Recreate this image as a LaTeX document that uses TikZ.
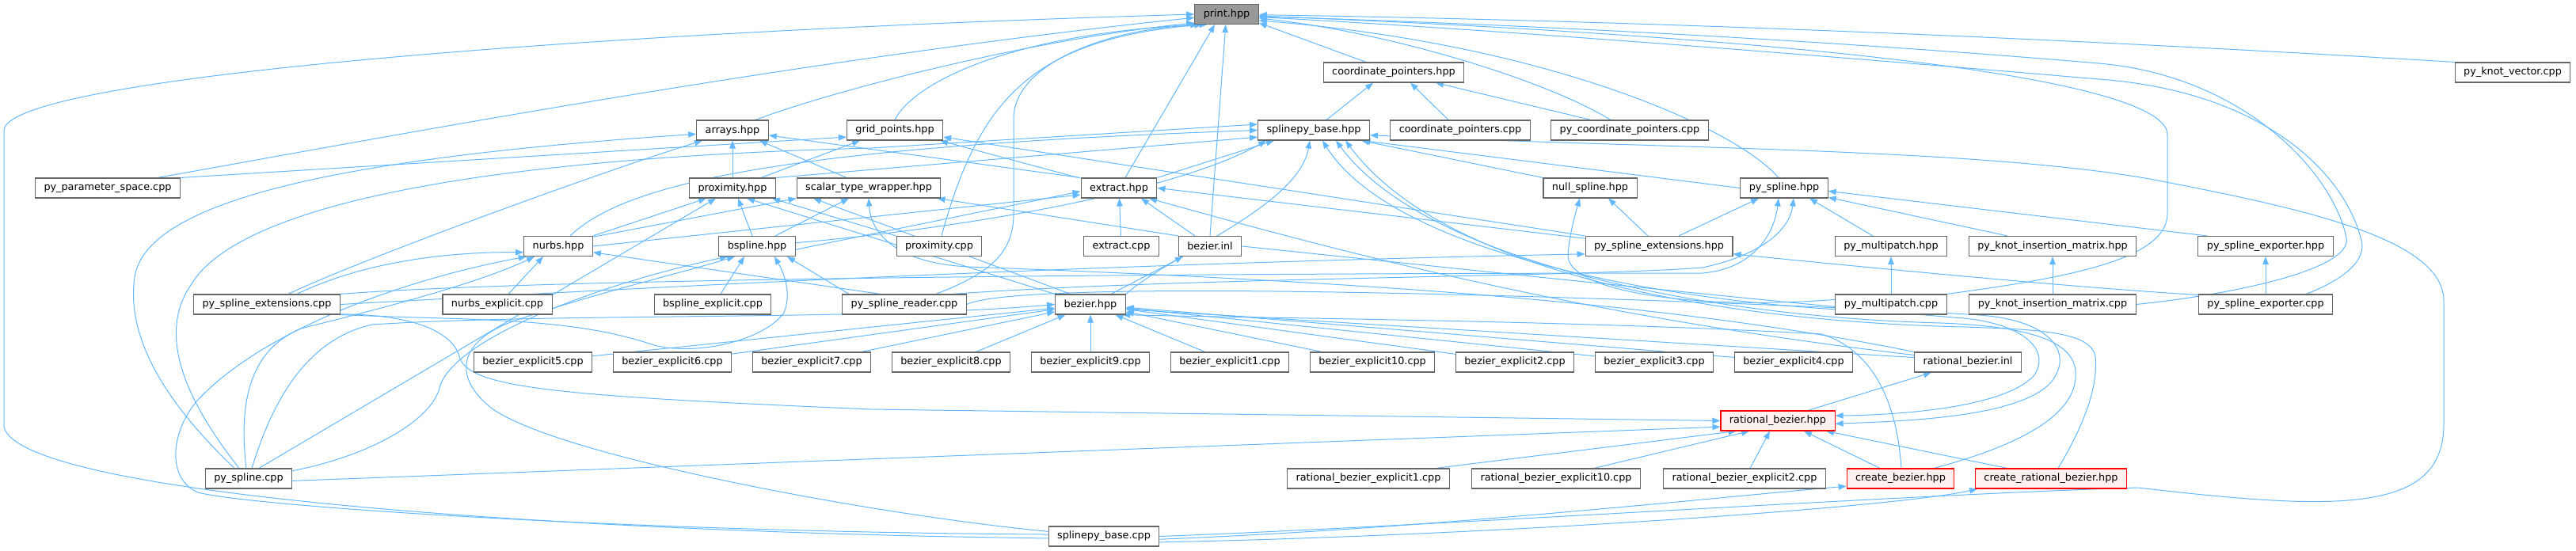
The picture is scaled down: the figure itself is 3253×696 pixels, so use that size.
\documentclass[tikz,border=0pt]{standalone}
\usepackage{fontspec}
\setmainfont{DejaVu Sans}
\usepackage{xcolor}
\usetikzlibrary{arrows.meta}

\definecolor{edgeblue}{HTML}{63B8FF}
\definecolor{boxgray}{HTML}{666666}
\definecolor{rootgray}{HTML}{999999}
\definecolor{truncpink}{HTML}{FFF0F0}
\newcommand{\graphfont}{\fontsize{12.8pt}{15pt}\selectfont}
\pgfdeclarelayer{edges}
\pgfsetlayers{edges,main}

\begin{document}
\begin{tikzpicture}[x=1pt, y=-1pt,
        file/.style={draw=boxgray, fill=white, line width=1.1pt, minimum height=25pt,
                     inner xsep=11pt, inner ysep=0pt, font=\graphfont},
        root/.style={file, fill=rootgray},
        trunc/.style={file, draw=red, fill=truncpink},
        dep/.style={draw=edgeblue, line width=1pt, -{Triangle[length=10pt, width=7.5pt]}}
    ]
    \useasboundingbox (0,0) rectangle (3253,696);

    \node[root] (print) at (1549,18) {print.hpp};

    \node[file] (coordp_hpp) at (1760,91.5) {coordinate\_pointers.hpp};
    \node[file] (knotvec_cpp) at (3173,91.5) {py\_knot\_vector.cpp};

    \node[file] (arrays) at (925,164.5) {arrays.hpp};
    \node[file] (gridpts) at (1130,164.5) {grid\_points.hpp};
    \node[file] (splbase_hpp) at (1659,164.5) {splinepy\_base.hpp};
    \node[file] (coordp_cpp) at (1844,164.5) {coordinate\_pointers.cpp};
    \node[file] (pycoordp_cpp) at (2058,164.5) {py\_coordinate\_pointers.cpp};

    \node[file] (paramspace_cpp) at (136,237.5) {py\_parameter\_space.cpp};
    \node[file] (prox_hpp) at (925,237.5) {proximity.hpp};
    \node[file] (scalar_hpp) at (1097,237.5) {scalar\_type\_wrapper.hpp};
    \node[file] (extract_hpp) at (1413,237.5) {extract.hpp};
    \node[file] (nullspl_hpp) at (2008,237.5) {null\_spline.hpp};
    \node[file] (pyspl_hpp) at (2253,237.5) {py\_spline.hpp};

    \node[file] (nurbs_hpp) at (705,311) {nurbs.hpp};
    \node[file] (bspl_hpp) at (956,311) {bspline.hpp};
    \node[file] (prox_cpp) at (1186,311) {proximity.cpp};
    \node[file] (extract_cpp) at (1416,311) {extract.cpp};
    \node[file] (bez_inl) at (1528,311) {bezier.inl};
    \node[file] (pysplext_hpp) at (2095,311) {py\_spline\_extensions.hpp};
    \node[file] (pymp_hpp) at (2388,311) {py\_multipatch.hpp};
    \node[file] (pykim_hpp) at (2592,311) {py\_knot\_insertion\_matrix.hpp};
    \node[file] (pyexp_hpp) at (2861,311) {py\_spline\_exporter.hpp};

    \node[file] (pysplext_cpp) at (337,384.5) {py\_spline\_extensions.cpp};
    \node[file] (nurbsexp_cpp) at (628,384.5) {nurbs\_explicit.cpp};
    \node[file] (bsplexp_cpp) at (900,384.5) {bspline\_explicit.cpp};
    \node[file] (pyreader_cpp) at (1142,384.5) {py\_spline\_reader.cpp};
    \node[file] (bez_hpp) at (1377,384.5) {bezier.hpp};
    \node[file] (pymp_cpp) at (2388,384.5) {py\_multipatch.cpp};
    \node[file] (pykim_cpp) at (2592,384.5) {py\_knot\_insertion\_matrix.cpp};
    \node[file] (pyexp_cpp) at (2861,384.5) {py\_spline\_exporter.cpp};

    \node[file] (bex5) at (673,457.5) {bezier\_explicit5.cpp};
    \node[file] (bex6) at (849,457.5) {bezier\_explicit6.cpp};
    \node[file] (bex7) at (1025,457.5) {bezier\_explicit7.cpp};
    \node[file] (bex8) at (1201,457.5) {bezier\_explicit8.cpp};
    \node[file] (bex9) at (1377,457.5) {bezier\_explicit9.cpp};
    \node[file] (bex1) at (1553,457.5) {bezier\_explicit1.cpp};
    \node[file] (bex10) at (1733,457.5) {bezier\_explicit10.cpp};
    \node[file] (bex2) at (1913,457.5) {bezier\_explicit2.cpp};
    \node[file] (bex3) at (2089,457.5) {bezier\_explicit3.cpp};
    \node[file] (bex4) at (2265,457.5) {bezier\_explicit4.cpp};
    \node[file] (rb_inl) at (2485,457.5) {rational\_bezier.inl};

    \node[trunc] (rb_hpp) at (2245,531.5) {rational\_bezier.hpp};

    \node[file] (pyspl_cpp) at (314,604.5) {py\_spline.cpp};
    \node[file] (rbex1) at (1728,604.5) {rational\_bezier\_explicit1.cpp};
    \node[file] (rbex10) at (1965,604.5) {rational\_bezier\_explicit10.cpp};
    \node[file] (rbex2) at (2203,604.5) {rational\_bezier\_explicit2.cpp};
    \node[trunc] (crbez) at (2400,604.5) {create\_bezier.hpp};
    \node[trunc] (crrbez) at (2590,604.5) {create\_rational\_bezier.hpp};

    \node[file] (splbase_cpp) at (1394,677.5) {splinepy\_base.cpp};

    \begin{pgfonlayer}{edges}
    \draw[dep] ([xshift=29pt]arrays.north) .. controls (1050,115) and (1300,50) .. (print.195);
    \draw[dep] (gridpts.north) .. controls (1150,110) and (1260,45) .. (print.200);
    \draw[dep] ([xshift=63pt]paramspace_cpp.north) .. controls (450,180) and (1000,75) .. (print.186);
    \draw[dep] (splbase_cpp.182) .. controls (700,672) and (30,625) .. (5,540) -- (5,165)
        .. controls (5,100) and (700,42) .. (print.180);
    \draw[dep] ([xshift=3pt]prox_cpp.north) .. controls (1235,130) and (1300,50) .. (print.203);
    \draw[dep] ([xshift=40pt]pyreader_cpp.north) .. controls (1250,345) and (1280,320) .. (1280,270)
        -- (1280,150) .. controls (1280,80) and (1400,35) .. (print.208);
    \draw[dep] ([xshift=8pt]extract_hpp.north) -- (print.221);
    \draw[dep] (bez_inl.north) -- (print.265);
    \draw[dep] ([xshift=-35pt]coordp_hpp.north) -- (print.-15);
    \draw[dep] ([xshift=-24pt]pycoordp_cpp.north) .. controls (1950,100) and (1750,40) .. (print.-7);
    \draw[dep] ([xshift=-7pt]pyspl_hpp.north) .. controls (2190,160) and (1950,55) .. (print.-11);
    \draw[dep] (knotvec_cpp.north west) .. controls (2800,60) and (2200,28) .. (print.-1);
    \draw[dep] (pymp_cpp.north east) .. controls (2600,352) and (2737,330) .. (2737,270)
        -- (2737,170) .. controls (2737,115) and (2450,55) .. (print.-3);
    \draw[dep] (pykim_cpp.east) .. controls (2820,372) and (2972,340) .. (2963,300)
        .. controls (2945,215) and (2830,95) .. (2650,80) .. controls (2300,50) and (1900,30) .. (print.-4);
    \draw[dep] ([xshift=51pt]pyexp_cpp.north) .. controls (2955,355) and (2992,330) .. (2981,300)
        .. controls (2960,220) and (2860,115) .. (2650,100) .. controls (2300,70) and (1900,38) .. (print.-5);

    \draw[dep] ([xshift=16pt]splbase_hpp.north) -- ([xshift=-26pt]coordp_hpp.south);
    \draw[dep] ([xshift=-15pt]coordp_cpp.north) -- ([xshift=21pt]coordp_hpp.south);
    \draw[dep] ([xshift=-49pt]pycoordp_cpp.north) -- ([xshift=53pt]coordp_hpp.south);

    \draw[dep] (prox_hpp) -- (arrays);
    \draw[dep] ([xshift=-28pt]scalar_hpp.north) -- ([xshift=34pt]arrays.south);
    \draw[dep] (extract_hpp.north west) -- (arrays.-8);
    \draw[dep] ([xshift=27pt]pysplext_cpp.north) .. controls (450,330) and (750,220) .. ([xshift=-38pt]arrays.south);
    \draw[dep] ([xshift=-18pt]pyspl_cpp.north) .. controls (200,500) and (160,420) .. (170,350)
        .. controls (185,255) and (420,200) .. (arrays.186);

    \draw[dep] (paramspace_cpp.north east) -- (gridpts.188);
    \draw[dep] ([xshift=36pt]prox_hpp.north) -- ([xshift=-44pt]gridpts.south);
    \draw[dep] ([xshift=-3pt]extract_hpp.north west) -- ([xshift=57pt]gridpts.south);
    \draw[dep] (pysplext_hpp.north west) -- (gridpts.-8);

    \draw[dep] (prox_hpp.north east) -- (splbase_hpp.187);
    \draw[dep] (extract_hpp.north east) -- ([xshift=-50pt]splbase_hpp.south);
    \draw[dep] ([xshift=15pt]nurbs_hpp.north) .. controls (790,230) and (1000,185) .. (splbase_hpp.180);
    \draw[dep] ([xshift=-12pt]pyspl_cpp.north) .. controls (230,500) and (200,420) .. (241,360)
        .. controls (300,260) and (600,200) .. (1100,187) -- (splbase_hpp.174);
    \draw[dep] (bspl_hpp.5) .. controls (1200,290) and (1480,245) .. ([xshift=-60pt]splbase_hpp.south);
    \draw[dep] (bez_hpp.north east) .. controls (1480,320) and (1640,260) .. ([xshift=-5pt]splbase_hpp.south);
    \draw[dep] (nullspl_hpp.north west) -- ([xshift=60pt]splbase_hpp.south);
    \draw[dep] (pyspl_hpp.west) -- (splbase_hpp.-12);
    \draw[dep] (pymp_cpp.185) .. controls (2100,378) and (1760,320) .. ([xshift=11pt]splbase_hpp.south);
    \draw[dep] ([xshift=42pt]crbez.north) .. controls (2560,560) and (2625,520) .. (2621,469)
        .. controls (2618,430) and (2560,412) .. (2450,408) .. controls (2150,400) and (1800,330) .. ([xshift=28pt]splbase_hpp.south);
    \draw[dep] ([xshift=9pt]crrbez.north) .. controls (2630,540) and (2650,490) .. (2646,450)
        .. controls (2640,420) and (2580,416) .. (2480,413) .. controls (2150,405) and (1820,340) .. ([xshift=40pt]splbase_hpp.south);
    \draw[dep] (splbase_cpp.east) .. controls (1800,665) and (2400,625) .. (2700,616)
        .. controls (2950,645) and (3086,650) .. (3086,536) -- (3086,380)
        .. controls (3086,300) and (2900,262) .. (2720,227) .. controls (2500,187) and (2100,188) .. (splbase_hpp.-5);

    \draw[dep] (nurbs_hpp.north east) -- ([xshift=-33pt]prox_hpp.south);
    \draw[dep] ([xshift=13pt]pyspl_cpp.north) -- ([xshift=-21pt]prox_hpp.south);
    \draw[dep] ([xshift=-6pt]bspl_hpp.north) -- ([xshift=7pt]prox_hpp.south);
    \draw[dep] (bez_hpp.north west) -- ([xshift=18pt]prox_hpp.south);
    \draw[dep] (prox_cpp.north west) -- ([xshift=50pt]prox_hpp.south);

    \draw[dep] (nurbs_hpp.15) -- (scalar_hpp.south west);
    \draw[dep] ([xshift=23pt]bspl_hpp.north) -- ([xshift=-25pt]scalar_hpp.south);
    \draw[dep] (bez_inl.north west) -- ([xshift=-5pt]scalar_hpp.south east);
    \draw[dep] ([xshift=-25pt]bez_hpp.north) -- ([xshift=-70pt]scalar_hpp.south);
    \draw[dep] (rb_inl.north west) .. controls (2100,380) and (1700,355) .. (1223,337)
        .. controls (1140,333) and (1100,300) .. (scalar_hpp.south);

    \draw[dep] (nurbs_hpp.east) -- (extract_hpp.190);
    \draw[dep] (bspl_hpp.-5) -- (extract_hpp.185);
    \draw[dep] (extract_cpp) -- (extract_hpp);
    \draw[dep] ([xshift=-19pt]bez_inl.north) -- ([xshift=28pt]extract_hpp.south);
    \draw[dep] ([yshift=-4pt]rb_inl.north west) .. controls (2000,400) and (1700,320) .. ([xshift=38pt]extract_hpp.south);
    \draw[dep] (pysplext_hpp.174) -- (extract_hpp.east);

    \draw[dep] ([xshift=14pt]nurbsexp_cpp.north) -- ([xshift=-19pt]nurbs_hpp.south);
    \draw[dep] ([xshift=-30pt]pyreader_cpp.north) -- (nurbs_hpp.-10);
    \draw[dep] ([xshift=38pt]pysplext_cpp.north) .. controls (450,335) and (550,318) .. (nurbs_hpp.190);
    \draw[dep] (splbase_cpp.178) .. controls (800,672) and (320,640) .. (250,622)
        .. controls (210,605) and (215,545) .. (250,505) .. controls (330,420) and (500,355) .. (nurbs_hpp.198);
    \draw[dep] ([xshift=-3pt]pyspl_cpp.north) .. controls (300,500) and (320,440) .. (380,415)
        .. controls (460,395) and (600,360) .. ([xshift=-30pt]nurbs_hpp.south);

    \draw[dep] ([xshift=10pt]bsplexp_cpp.north) -- ([xshift=-16pt]bspl_hpp.south);
    \draw[dep] ([xshift=-70pt]pyreader_cpp.north) -- ([xshift=38pt]bspl_hpp.south);
    \draw[dep] (pyspl_cpp.10) .. controls (470,575) and (545,530) .. (555,490)
        .. controls (570,430) and (750,360) .. ([xshift=-37pt]bspl_hpp.south);
    \draw[dep] (pysplext_cpp.-8) .. controls (600,405) and (720,400) .. (826,436)
        .. controls (880,450) and (965,430) .. (990,395) .. controls (1000,370) and (990,345) .. ([xshift=22pt]bspl_hpp.south);
    \draw[dep] (splbase_cpp.175) .. controls (1100,650) and (700,575) .. (620,515)
        .. controls (570,475) and (580,430) .. (650,405) .. controls (760,368) and (860,345) .. ([xshift=-28pt]bspl_hpp.south);

    \draw[dep] ([xshift=26pt]bez_hpp.north) -- ([xshift=-34pt]bez_inl.south);

    \draw[dep] (bex5) -- (bez_hpp);
    \draw[dep] (bex6) -- (bez_hpp);
    \draw[dep] (bex7) -- (bez_hpp);
    \draw[dep] (bex8) -- (bez_hpp);
    \draw[dep] (bex9) -- (bez_hpp);
    \draw[dep] (bex1) -- (bez_hpp);
    \draw[dep] (bex10) -- (bez_hpp);
    \draw[dep] (bex2) -- (bez_hpp);
    \draw[dep] (bex3) -- (bez_hpp);
    \draw[dep] (bex4) -- (bez_hpp);
    \draw[dep] (rb_inl.175) -- (bez_hpp.-8);
    \draw[dep] ([xshift=1pt]crbez.north) .. controls (2395,500) and (2360,440) .. (2300,422)
        .. controls (2000,405) and (1600,402) .. (bez_hpp.-18);
    \draw[dep] ([xshift=4pt]pyspl_cpp.north) .. controls (340,520) and (380,430) .. (470,410)
        .. controls (700,395) and (1100,405) .. (bez_hpp.west);

    \draw[dep] ([xshift=85pt]rbex1.north) -- (rb_hpp.194);
    \draw[dep] ([xshift=48pt]rbex10.north) -- (rb_hpp.200);
    \draw[dep] ([xshift=7pt]rbex2.north) -- ([xshift=-10pt]rb_hpp.south);
    \draw[dep] ([xshift=-26pt]crbez.north) -- ([xshift=33pt]rb_hpp.south);
    \draw[dep] ([xshift=-55pt]crrbez.north) -- ([xshift=61pt]rb_hpp.south);
    \draw[dep] (pyspl_cpp.-3) -- (rb_hpp.186);
    \draw[dep] (pysplext_cpp.-12) .. controls (520,392) and (572,420) .. (580,450)
        .. controls (590,490) and (700,500) .. (1100,517) -- (rb_hpp.180);
    \draw[dep] (bez_inl.east) .. controls (1800,335) and (2300,388) .. (2480,402)
        .. controls (2560,410) and (2590,445) .. (2568,475) .. controls (2530,515) and (2400,524) .. (rb_hpp.5);
    \draw[dep] (pyreader_cpp.east) .. controls (1300,345) and (2300,385) .. (2500,398)
        .. controls (2595,405) and (2620,450) .. (2588,485) .. controls (2545,528) and (2400,532) .. (rb_hpp.-3);
    \draw[dep] ([xshift=38pt]rb_hpp.north) -- ([xshift=-46pt]rb_inl.south);

    \draw[dep] ([xshift=25pt]pysplext_hpp.north) -- ([xshift=-32pt]pyspl_hpp.south);
    \draw[dep] ([xshift=-23pt]pymp_hpp.north) -- ([xshift=32pt]pyspl_hpp.south);
    \draw[dep] ([xshift=-57pt]pykim_hpp.north) -- (pyspl_hpp.-12);
    \draw[dep] (pyexp_hpp.170) -- (pyspl_hpp.-4);
    \draw[dep] (pysplext_cpp.north east) .. controls (700,350) and (1600,345) .. (2150,345)
        .. controls (2210,340) and (2240,300) .. ([xshift=-7pt]pyspl_hpp.south);
    \draw[dep] ([xshift=60pt]pyreader_cpp.north) .. controls (1500,350) and (2000,350) .. (2150,338)
        .. controls (2225,322) and (2260,290) .. ([xshift=12pt]pyspl_hpp.south);

    \draw[dep] (pysplext_cpp.east) .. controls (700,370) and (1300,335) .. (pysplext_hpp.186);
    \draw[dep] (pyexp_cpp.172) .. controls (2600,362) and (2300,332) .. (pysplext_hpp.-6);

    \draw[dep] ([xshift=-14pt]pysplext_hpp.north) -- ([xshift=23pt]nullspl_hpp.south);
    \draw[dep] (pymp_cpp.175) .. controls (2150,392) and (1975,370) .. (1980,320)
        .. controls (1983,290) and (1990,268) .. ([xshift=-13pt]nullspl_hpp.south);

    \draw[dep] (pymp_cpp) -- (pymp_hpp);
    \draw[dep] (pykim_cpp) -- (pykim_hpp);
    \draw[dep] (pyexp_cpp) -- (pyexp_hpp);

    \draw[dep] (splbase_cpp.-3) .. controls (1800,668) and (2150,630) .. (crbez.188);
    \draw[dep] (splbase_cpp.-6) .. controls (1900,676) and (2400,640) .. (crrbez.188);
    \end{pgfonlayer}
\end{tikzpicture}
\end{document}
